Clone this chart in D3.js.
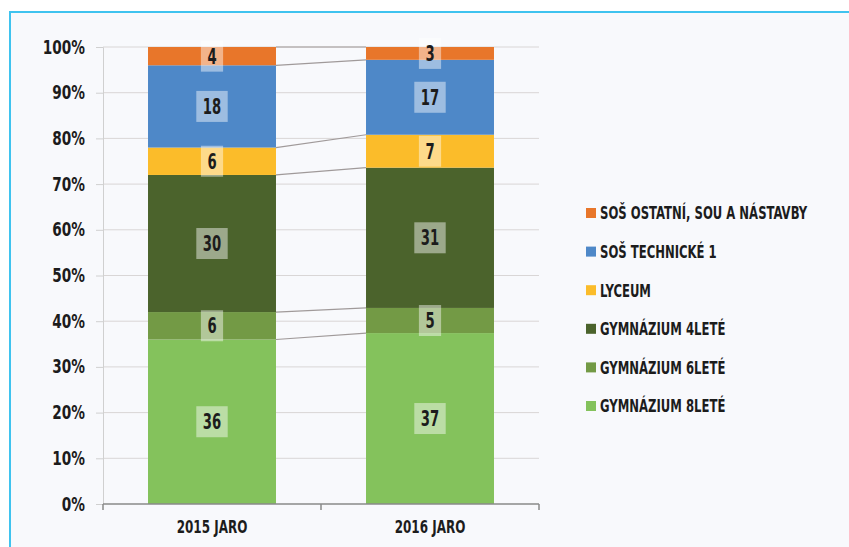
<!DOCTYPE html>
<html>
<head>
<meta charset="utf-8">
<script src="https://cdn.jsdelivr.net/npm/d3@7"></script>
<style>
  html, body { margin: 0; padding: 0; background: #ffffff; }
  svg text { font-family: "DejaVu Sans Condensed", "Liberation Sans Narrow", sans-serif; font-weight: bold; fill: #1c1c1c; }
</style>
</head>
<body>
<div id="chart"></div>
<script>
// Categories on the x axis
var years = ["2015 JARO", "2016 JARO"];

// Series names, bottom to top of the stack
var seriesNames = ["GYMNÁZIUM 8LETÉ", "GYMNÁZIUM 6LETÉ", "GYMNÁZIUM 4LETÉ", "LYCEUM", "SOŠ TECHNICKÉ 1", "SOŠ OSTATNÍ, SOU A NÁSTAVBY"];
var seriesColors = ["#84c25c", "#739a45", "#4b632c", "#fbbc2a", "#4e88c8", "#e8762a"];

// Shares in percent
var shares2015 = [36, 6, 30, 6, 18, 4];
var shares2016 = [37.4, 5.5, 30.7, 7.2, 16.4, 2.8];

// Values printed on the segments
var labels2015 = ["36", "6", "30", "6", "18", "4"];
var labels2016 = ["37", "5", "31", "7", "17", "3"];

var yTicks = [0, 10, 20, 30, 40, 50, 60, 70, 80, 90, 100];

var W = 849, H = 547;

var svg = d3.select("#chart").append("svg")
    .attr("width", W)
    .attr("height", H);

// condensed look: squeeze text horizontally around its anchor
function squeezed(parent, px, py, sx, size, anchor, str) {
    return parent.append("text")
        .attr("transform", "translate(" + px + "," + py + ") scale(" + sx + ",1)")
        .attr("dy", "0.36em")
        .attr("text-anchor", anchor)
        .attr("font-size", size + "px")
        .text(str);
}

// Frame with cyan top/left border (cut off at right and bottom)
svg.append("rect")
    .attr("x", 10).attr("y", 12)
    .attr("width", W).attr("height", H)
    .attr("fill", "#f8f9fc")
    .attr("stroke", "#3fc3ef")
    .attr("stroke-width", 2);

var plot = { left: 103, right: 539, top: 47, bottom: 504 };

var x = d3.scaleBand()
    .domain(years)
    .range([plot.left, plot.right])
    .paddingInner(0.413)
    .paddingOuter(0.2065);

var y = d3.scaleLinear()
    .domain([0, 100])
    .range([plot.bottom, plot.top]);

// Grid lines
svg.append("g")
    .selectAll("line")
    .data(yTicks.filter(function (d) { return d > 0; }))
    .enter().append("line")
    .attr("x1", plot.left).attr("x2", plot.right)
    .attr("y1", function (d) { return y(d); })
    .attr("y2", function (d) { return y(d); })
    .attr("stroke", "#d9d6d6")
    .attr("stroke-width", 1);

// Y axis
var yAxis = svg.append("g")
    .attr("transform", "translate(" + plot.left + ",0)")
    .call(d3.axisLeft(y).tickValues(yTicks).tickSize(7).tickFormat(function (d) { return d + "%"; }));
yAxis.select(".domain").attr("stroke", "#d0d0d0");
yAxis.selectAll(".tick line").attr("stroke", "#d0d0d0");
yAxis.selectAll(".tick text")
    .attr("x", -18 / 0.8)
    .attr("transform", "scale(0.8,1)")
    .attr("font-size", "19px")
    .attr("fill", "#1c1c1c");

// Stack data
var rows = years.map(function (yr, i) {
    var vals = i === 0 ? shares2015 : shares2016;
    var row = { year: yr };
    seriesNames.forEach(function (s, j) { row[s] = vals[j]; });
    return row;
});
var stacked = d3.stack().keys(seriesNames)(rows);

// Series connector lines
var bw = x.bandwidth();
svg.append("g")
    .selectAll("line")
    .data(stacked)
    .enter().append("line")
    .attr("x1", x(years[0]) + bw)
    .attr("x2", x(years[1]))
    .attr("y1", function (d) { return y(d[0][1]); })
    .attr("y2", function (d) { return y(d[1][1]); })
    .attr("stroke", "#a09a9a")
    .attr("stroke-width", 1.2);

// Bars
svg.append("g")
    .selectAll("g")
    .data(stacked)
    .enter().append("g")
    .attr("fill", function (d, i) { return seriesColors[i]; })
    .selectAll("rect")
    .data(function (d) { return d; })
    .enter().append("rect")
    .attr("x", function (d) { return x(d.data.year); })
    .attr("y", function (d) { return y(d[1]); })
    .attr("height", function (d) { return y(d[0]) - y(d[1]); })
    .attr("width", bw);

// X axis
var xAxis = svg.append("g")
    .attr("transform", "translate(0," + plot.bottom + ")");
xAxis.append("line")
    .attr("x1", plot.left).attr("x2", plot.right)
    .attr("stroke", "#8a8a8a").attr("stroke-width", 1.5);
xAxis.selectAll(".xt")
    .data([plot.left, (plot.left + plot.right) / 2, plot.right])
    .enter().append("line")
    .attr("x1", function (d) { return d; })
    .attr("x2", function (d) { return d; })
    .attr("y1", 0).attr("y2", 6)
    .attr("stroke", "#8a8a8a").attr("stroke-width", 1.5);
years.forEach(function (yr) {
    squeezed(xAxis, x(yr) + bw / 2, 23, 0.74, 18, "middle", yr);
});

// Value labels with light boxes
var labelLayer = svg.append("g");
stacked.forEach(function (serie, j) {
    serie.forEach(function (d, i) {
        var txt = (i === 0 ? labels2015 : labels2016)[j];
        var cx = x(d.data.year) + bw / 2;
        var cy = y((d[0] + d[1]) / 2);
        var g = labelLayer.append("g");
        var box = g.append("rect").attr("fill", "#ffffff").attr("fill-opacity", 0.45);
        var t = squeezed(g, cx, cy, 0.7, 21, "middle", txt);
        var tw = t.node().getBBox().width * 0.7;
        var bwid = tw + 13, bhgt = 31;
        box.attr("x", cx - bwid / 2)
            .attr("y", cy - bhgt / 2)
            .attr("width", bwid)
            .attr("height", bhgt);
    });
});

// Legend (top series first)
var legend = svg.append("g");
var legendOrder = seriesNames.slice().reverse();
var legendColors = seriesColors.slice().reverse();
legendOrder.forEach(function (name, i) {
    var ly = 213 + i * 38.6;
    legend.append("rect")
        .attr("x", 586).attr("y", ly - 5)
        .attr("width", 10).attr("height", 10)
        .attr("fill", legendColors[i]);
    squeezed(legend, 600, ly, 0.72, 18, "start", name);
});
</script>
</body>
</html>
